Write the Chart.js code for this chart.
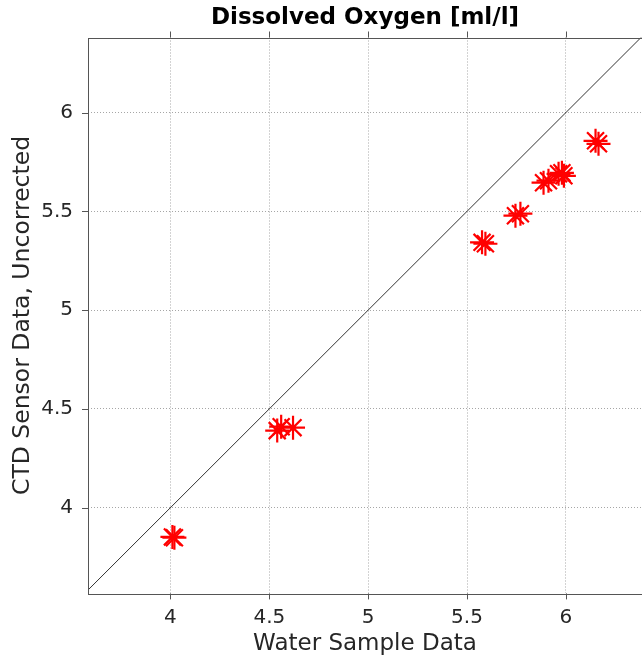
<!DOCTYPE html>
<html>
<head>
<meta charset="utf-8">
<script src="https://cdn.jsdelivr.net/npm/chart.js@4"></script>
<style>
  body { margin: 0; background: #fff; overflow: hidden; }
  canvas { display: block; }
</style>
</head>
<body>
<canvas id="chart" width="642" height="660"></canvas>
<script>
// Data
const waterSample = [4.01, 4.02, 4.54, 4.56, 4.62, 5.576, 5.593, 5.745, 5.77, 5.887, 5.912, 5.963, 5.98, 5.99, 6.15, 6.165];
const ctdSensor   = [3.852, 3.848, 4.39, 4.41, 4.405, 5.343, 5.336, 5.478, 5.488, 5.645, 5.655, 5.69, 5.695, 5.68, 5.857, 5.842];
const xTicks = [4, 4.5, 5, 5.5, 6];
const yTicks = [4, 4.5, 5, 5.5, 6];
const xRange = [3.583, 6.385];
const yRange = [3.566, 6.38];
const oneToOne = [3.5, 6.5];
const chartTitle = 'Dissolved Oxygen [ml/l]';

const font = 'DejaVu Sans';
const textColor = '#262626';

// axes box, outward tick marks and a title centred over the plot box
const frame = {
    id: 'frame',
    afterDraw(chart) {
        const { ctx, chartArea: a, scales: { x, y } } = chart;
        ctx.save();
        ctx.strokeStyle = '#555';
        ctx.lineWidth = 1;
        ctx.strokeRect(Math.round(a.left) + 0.5, Math.round(a.top) + 0.5,
            Math.round(a.width), Math.round(a.height));
        ctx.beginPath();
        xTicks.forEach(v => {
            const px = Math.round(x.getPixelForValue(v)) + 0.5;
            ctx.moveTo(px, a.bottom); ctx.lineTo(px, a.bottom + 6);
            ctx.moveTo(px, a.top); ctx.lineTo(px, a.top - 6);
        });
        yTicks.forEach(v => {
            const py = Math.round(y.getPixelForValue(v)) + 0.5;
            ctx.moveTo(a.left, py); ctx.lineTo(a.left - 6, py);
        });
        ctx.stroke();

        ctx.fillStyle = '#000';
        ctx.font = 'bold 23px "' + font + '"';
        ctx.textAlign = 'center';
        ctx.textBaseline = 'middle';
        ctx.fillText(chartTitle, (a.left + a.right) / 2, 18);
        ctx.restore();
    }
};

const pts = waterSample.map((v, i) => ({ x: v, y: ctdSensor[i] }));

new Chart(document.getElementById('chart'), {
    type: 'scatter',
    data: {
        datasets: [{
            type: 'line',
            data: oneToOne.map(v => ({ x: v, y: v })),
            borderColor: '#333',
            borderWidth: 1,
            pointRadius: 0,
            fill: false
        }, {
            data: pts,
            pointStyle: 'star',
            pointRadius: 12,
            borderWidth: 2.2,
            borderColor: '#ff0000',
            backgroundColor: '#ff0000'
        }]
    },
    options: {
        responsive: false,
        animation: false,
        layout: { autoPadding: false, padding: { top: 37.5, left: 0, right: 0, bottom: 0 } },
        plugins: {
            legend: { display: false },
            tooltip: { enabled: false },
            title: { display: false }
        },
        scales: {
            x: {
                type: 'linear',
                min: xRange[0],
                max: xRange[1],
                afterBuildTicks: s => { s.ticks = xTicks.map(v => ({ value: v })); },
                afterFit: s => { s.height = 66.6; s.paddingLeft = 0; s.paddingRight = 0; },
                grid: { color: 'rgba(0,0,0,0.35)', drawTicks: false },
                border: { display: false, dash: [1, 2] },
                ticks: {
                    color: textColor,
                    padding: 12,
                    maxRotation: 0,
                    font: { family: font, size: 20 },
                    callback: v => String(v)
                },
                title: {
                    display: true,
                    text: 'Water Sample Data',
                    color: textColor,
                    font: { family: font, size: 23 },
                    padding: { bottom: 2 }
                }
            },
            y: {
                type: 'linear',
                min: yRange[0],
                max: yRange[1],
                afterBuildTicks: s => { s.ticks = yTicks.map(v => ({ value: v })); },
                afterFit: s => { s.width = 88; s.paddingTop = 0; s.paddingBottom = 0; },
                grid: { color: 'rgba(0,0,0,0.35)', drawTicks: false },
                border: { display: false, dash: [1, 2] },
                ticks: {
                    color: textColor,
                    padding: 15,
                    font: { family: font, size: 20 },
                    callback: v => String(v)
                },
                title: {
                    display: true,
                    text: 'CTD Sensor Data, Uncorrected',
                    color: textColor,
                    font: { family: font, size: 23.5 },
                    padding: { top: 9 }
                }
            }
        }
    },
    plugins: [frame]
});
</script>
</body>
</html>
